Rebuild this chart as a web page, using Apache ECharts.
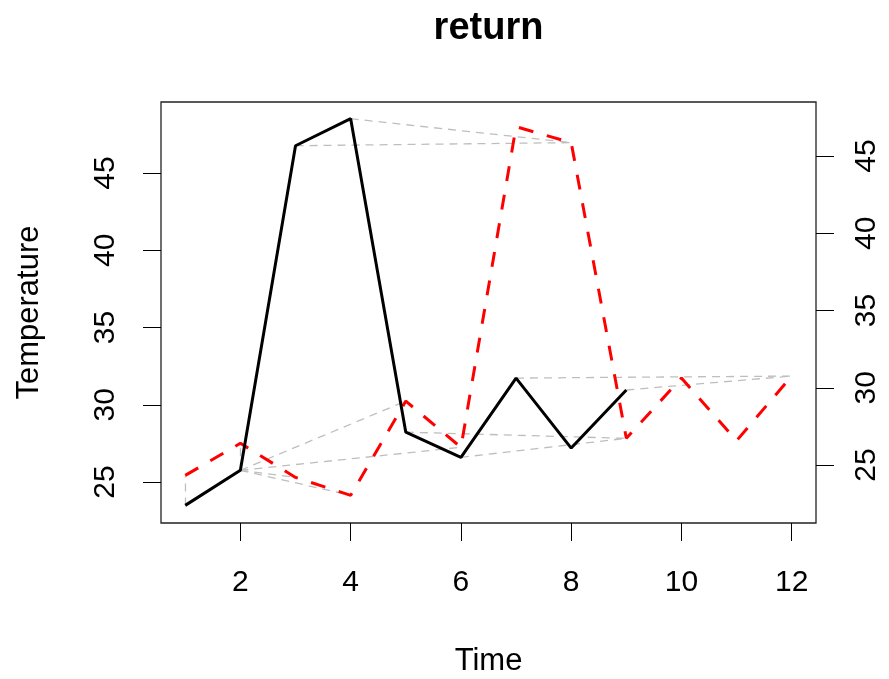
<!DOCTYPE html>
<html>
<head>
<meta charset="utf-8">
<script src="https://cdn.jsdelivr.net/npm/echarts@6/dist/echarts.min.js"></script>
<style>
  html, body { margin: 0; padding: 0; background: #ffffff; }
  #chart { width: 889px; height: 679px; }
</style>
</head>
<body>
<div id="chart"></div>
<script>
// Time index shared by both series
const time = [1, 2, 3, 4, 5, 6, 7, 8, 9, 10, 11, 12];

// Query series (solid black), left axis
const queryTemp = [23.49, 25.76, 46.77, 48.52, 28.23, 26.60, 31.73, 27.20, 30.96];

// Reference series (dashed red), right axis
const refTemp = [24.33, 26.41, 24.20, 23.04, 29.14, 26.15, 46.90, 45.87, 26.73, 30.63, 26.58, 30.76];

// Vertical shift applied to the reference series when drawn on the left scale
const refOffset = 1.1;

// Matched index pairs [query index, reference index], 1-based
const matches = [
  [1, 1], [2, 2], [2, 3], [2, 4], [2, 5], [2, 6],
  [3, 8], [4, 8], [5, 9], [6, 9], [7, 12], [9, 12]
];

const xTicks = [2, 4, 6, 8, 10, 12];
const yTicks = [25, 30, 35, 40, 45];

const FONT = "'Liberation Sans', Arial, Helvetica, sans-serif";

const yMin = 22.35, yMax = 49.6;

const queryData = queryTemp.map((v, i) => [time[i], v]);
const refData = refTemp.map((v, i) => [time[i], v]);
const matchData = matches.map(([qi, rj]) => ({
  coords: [[time[qi - 1], queryTemp[qi - 1]], [time[rj - 1], refTemp[rj - 1] + refOffset]]
}));

// centre the title over the plotting region
const plotLeft = 161, plotRight = 73, plotW = 889 - plotLeft - plotRight;
const titleFont = 'bold 38px ' + FONT;
const ctx = document.createElement('canvas').getContext('2d');
ctx.font = titleFont;
const titleW = ctx.measureText('return').width;

const chart = echarts.init(document.getElementById('chart'), null, { renderer: 'canvas' });

const tickStyle = { show: true, inside: false, length: 18, lineStyle: { color: '#000', width: 1 } };

chart.setOption({
  animation: false,
  backgroundColor: '#ffffff',
  title: {
    text: 'return',
    left: plotLeft + plotW / 2 - titleW / 2,
    top: 10,
    padding: 0,
    textStyle: { fontFamily: FONT, fontSize: 38, fontWeight: 'bold', color: '#000' }
  },
  grid: {
    left: plotLeft, right: plotRight, top: 102, bottom: 156,
    outerBoundsMode: 'none',
    containLabel: false,
    show: true, borderColor: '#222', borderWidth: 1.3, backgroundColor: 'transparent'
  },
  xAxis: {
    type: 'value',
    min: 0.56, max: 12.44,
    name: 'Time',
    nameLocation: 'middle',
    nameGap: 123,
    nameTextStyle: { fontFamily: FONT, fontSize: 31, color: '#000' },
    axisLine: { show: false },
    axisTick: Object.assign({ customValues: xTicks }, tickStyle),
    axisLabel: { customValues: xTicks, margin: 45, fontFamily: FONT, fontSize: 30, color: '#000' },
    splitLine: { show: false }
  },
  yAxis: [
    {
      type: 'value',
      position: 'left',
      min: yMin, max: yMax,
      name: 'Temperature',
      nameLocation: 'middle',
      nameRotate: 90,
      nameGap: 116,
      nameTextStyle: { fontFamily: FONT, fontSize: 31, color: '#000' },
      axisLine: { show: false },
      axisTick: Object.assign({ customValues: yTicks }, tickStyle),
      axisLabel: { customValues: yTicks, rotate: 90, margin: 40, fontFamily: FONT, fontSize: 30, color: '#000' },
      splitLine: { show: false }
    },
    {
      type: 'value',
      position: 'right',
      min: yMin - refOffset, max: yMax - refOffset,
      axisLine: { show: false },
      axisTick: Object.assign({ customValues: yTicks }, tickStyle),
      axisLabel: { customValues: yTicks, rotate: 90, margin: 36, fontFamily: FONT, fontSize: 30, color: '#000' },
      splitLine: { show: false }
    }
  ],
  series: [
    {
      type: 'lines',
      coordinateSystem: 'cartesian2d',
      xAxisIndex: 0, yAxisIndex: 0,
      z: 1,
      silent: true,
      data: matchData,
      lineStyle: { color: '#bebebe', width: 1.3, type: [8, 6], opacity: 1 }
    },
    {
      type: 'line',
      xAxisIndex: 0, yAxisIndex: 0,
      z: 3,
      data: queryData,
      showSymbol: false,
      lineStyle: { color: '#000000', width: 3 }
    },
    {
      type: 'line',
      xAxisIndex: 0, yAxisIndex: 1,
      z: 2,
      data: refData,
      showSymbol: false,
      lineStyle: { color: '#ff0000', width: 3, type: [15, 14] }
    }
  ]
});
</script>
</body>
</html>
